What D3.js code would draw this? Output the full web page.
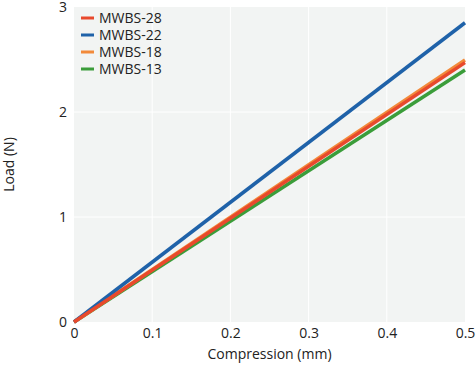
<!DOCTYPE html>
<html><head><meta charset="utf-8">
<script src="https://cdn.jsdelivr.net/npm/d3@7"></script>
<style>body{margin:0;background:#fff}svg{display:block;font-family:"Open Sans","Noto Sans",sans-serif}</style>
</head><body><svg id="c" width="476" height="365"></svg>
<script>
const seriesNames = ["MWBS-28","MWBS-22","MWBS-18","MWBS-13"];
const seriesColors = ["#e8492c","#1f62a9","#f28a3a","#3b9d3a"];
const compression = [0, 0.5];
const load28 = [0, 2.47];
const load22 = [0, 2.85];
const load18 = [0, 2.495];
const load13 = [0, 2.40];
const xTicks = [0,0.1,0.2,0.3,0.4,0.5];
const yTicks = [0,1,2,3];

const allLoads = [load28, load22, load18, load13];
const svg = d3.select("#c");
const m = {l:74, r:10, t:7, b:43};
const W = 476, H = 365;
const x = d3.scaleLinear().domain([0,0.5]).range([m.l, W-m.r-1]);
const y = d3.scaleLinear().domain([0,3]).range([H-m.b, m.t]);

svg.append("rect").attr("x",x(0)).attr("y",y(3)).attr("width",x(0.5)-x(0)).attr("height",y(0)-y(3)).attr("fill","#f2f4f3");
svg.append("g").selectAll("line").data(xTicks.slice(1,-1)).join("line")
  .attr("x1",d=>x(d)).attr("x2",d=>x(d)).attr("y1",y(0)).attr("y2",y(3)).attr("stroke","#fff").attr("stroke-width",1);
svg.append("g").selectAll("line").data(yTicks.slice(1,-1)).join("line")
  .attr("y1",d=>y(d)).attr("y2",d=>y(d)).attr("x1",x(0)).attr("x2",x(0.5)).attr("stroke","#fff").attr("stroke-width",1);

const xa = svg.append("g").attr("transform",`translate(0,${y(0)})`)
  .call(d3.axisBottom(x).tickValues(xTicks).tickFormat(d3.format("")).tickSize(0).tickPadding(6));
xa.select(".domain").remove();
xa.selectAll("text").attr("font-size",14).attr("fill","#222").style("font-family",'"Open Sans","Noto Sans",sans-serif');
const ya = svg.append("g").attr("transform",`translate(${x(0)},0)`)
  .call(d3.axisLeft(y).tickValues(yTicks).tickFormat(d3.format("d")).tickSize(0).tickPadding(7));
ya.select(".domain").remove();
ya.selectAll("text").attr("font-size",14).attr("fill","#222").style("font-family",'"Open Sans","Noto Sans",sans-serif');

svg.append("text").attr("x",(x(0)+x(0.5))/2).attr("y",359).attr("text-anchor","middle")
  .attr("font-size",14).attr("fill","#222").text("Compression (mm)");
svg.append("text").attr("transform",`translate(14,${(y(0)+y(3))/2}) rotate(-90)`).attr("text-anchor","middle")
  .attr("font-size",14).attr("fill","#222").text("Load (N)");

const line = d3.line().x((d,i)=>x(compression[i])).y(d=>y(d));
const order = [3,2,1,0];
order.forEach(k=>{
  svg.append("path").attr("d",line(allLoads[k])).attr("fill","none")
    .attr("stroke",seriesColors[k]).attr("stroke-width",3.5);
});

const lg = svg.append("g");
seriesNames.forEach((n,i)=>{
  const yy = 18 + i*17;
  lg.append("line").attr("x1",81).attr("x2",94).attr("y1",yy).attr("y2",yy).attr("stroke",seriesColors[i]).attr("stroke-width",3);
  lg.append("text").attr("x",99).attr("y",yy+5).attr("font-size",14).attr("fill","#222").text(n);
});
</script></body></html>
